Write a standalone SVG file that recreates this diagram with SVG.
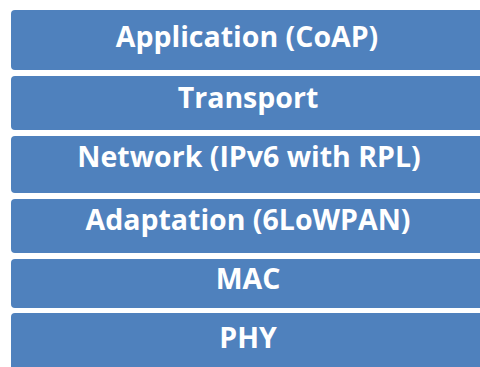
<svg xmlns="http://www.w3.org/2000/svg" width="480" height="367" viewBox="0 0 480 367">
<style>
.b{fill:#4F81BD}
.t{fill:#fff;font-family:"Open Sans","Liberation Sans",sans-serif;font-weight:bold;font-size:28.5px;text-anchor:middle}
</style>
<rect width="480" height="367" fill="#fff"/>
<g id="app"><rect class="b" x="11" y="10" width="480" height="60" rx="4"/><text class="t" x="247" y="47">Application (CoAP)</text></g>
<g id="transport"><rect class="b" x="11" y="76" width="480" height="54" rx="4"/><text class="t" x="248" y="108">Transport</text></g>
<g id="network"><rect class="b" x="11" y="136" width="480" height="57" rx="4"/><text class="t" x="249" y="167">Network (IPv6 with RPL)</text></g>
<g id="adaptation"><rect class="b" x="11" y="199" width="480" height="54" rx="4"/><text class="t" x="248" y="230">Adaptation (6LoWPAN)</text></g>
<g id="mac"><rect class="b" x="11" y="259" width="480" height="49" rx="4"/><text class="t" x="248" y="289">MAC</text></g>
<g id="phy"><rect class="b" x="11" y="313" width="480" height="70" rx="4"/><text class="t" x="248" y="348">PHY</text></g>
<g id="connectors"/>
</svg>
